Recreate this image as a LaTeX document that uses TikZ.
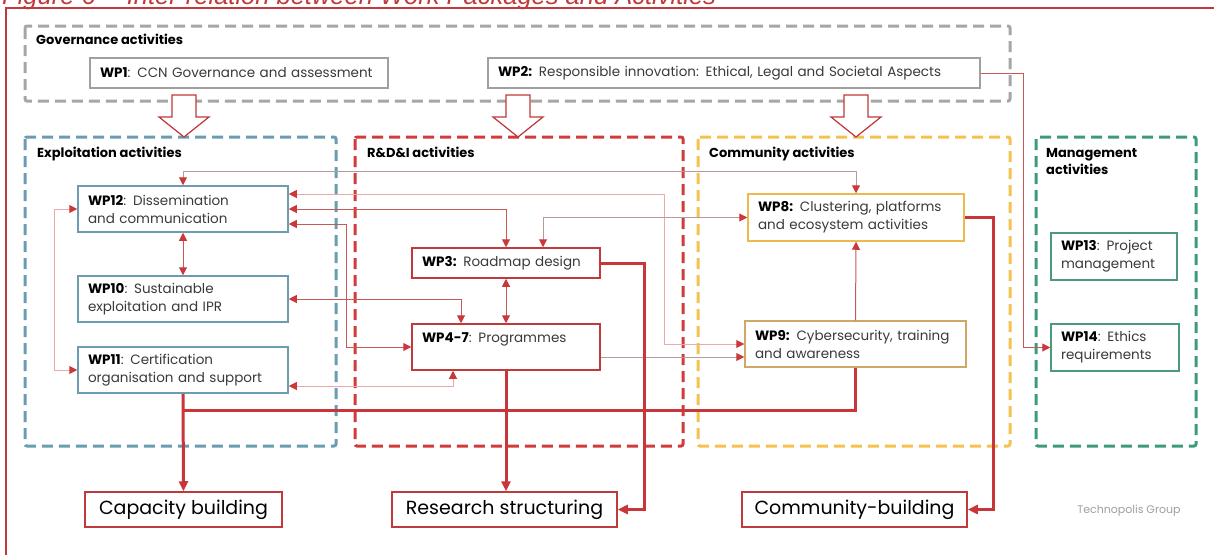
\documentclass[tikz,border=0pt]{standalone}
\usepackage{fontspec}
\setmainfont{Poppins}
\newfontfamily\titlefont{Liberation Sans}
\usetikzlibrary{arrows.meta,calc}

\definecolor{framered}{HTML}{C0393B}
\definecolor{govgray}{HTML}{A6A6A6}
\definecolor{expblue}{HTML}{6A9CB2}
\definecolor{rdired}{HTML}{D23B3B}
\definecolor{comyellow}{HTML}{F5C14F}
\definecolor{mgmtgreen}{HTML}{3E9A7A}
\definecolor{linkdark}{HTML}{C65A57}
\definecolor{linklight}{HTML}{EBA9A9}
\definecolor{linkgray}{HTML}{B89A9A}
\definecolor{busred}{HTML}{C8363A}
\definecolor{tipred}{HTML}{C9393B}
\definecolor{bodytext}{HTML}{3A3A3A}
\definecolor{wpgray}{HTML}{A0A0A0}
\definecolor{wpblue}{HTML}{6D9BB0}
\definecolor{wpred}{HTML}{C0393B}
\definecolor{wpgold}{HTML}{EDB94C}
\definecolor{wptan}{HTML}{CFA868}
\definecolor{wpgreen}{HTML}{4A9A7C}

\newcommand\wpn[1]{\textcolor{black}{\bfseries #1}}

\tikzset{
  area/.style={line width=3pt, dash pattern=on 11pt off 6pt, rounded corners=2pt},
  arealabel/.style={anchor=base west, inner sep=0pt, align=left,
    font=\fontsize{13}{17}\selectfont\bfseries, text=black},
  wpbox/.style={draw, line width=1.5pt, fill=white, inner xsep=10pt, inner ysep=0pt,
    align=left, font=\fontsize{13.5}{18}\selectfont, text=bodytext},
  wp/.style n args={2}{wpbox, text width=#1, minimum height=#2},
  outcome/.style={draw=wpred, line width=1.5pt, fill=white, inner sep=0pt,
    align=center, font=\fontsize{19}{22}\selectfont, text=black,
    minimum height=35pt},
  blockarrow/.style={draw=framered, line width=1.2pt, fill=white, line join=miter},
  link/.style={line width=1pt, >={Triangle[length=8pt,width=8pt,color=tipred]}},
  linkdark/.style={link, draw=linkdark},
  linklight/.style={link, draw=linklight},
  linkgray/.style={link, draw=linkgray},
  bus/.style={line width=3pt, draw=busred, line join=miter,
    >={Triangle[length=10pt,width=9pt,color=busred]}},
}

\begin{document}
\begin{tikzpicture}[x=1pt,y=-1pt]
\useasboundingbox (0,0) rectangle (1214,554);
\clip (0,0) rectangle (1214,554);
\fill[white] (0,0) rectangle (1214,554);

% caption, partly cut by the page edge, and the outer frame
\node[anchor=base west, inner sep=0pt, text=framered,
      font=\titlefont\itshape\fontsize{25.5}{26}\selectfont] (title) at (2,5)
  {Figure 6 -- Inter-relation between Work Packages and Activities};
\draw[framered, line width=2.5pt] (1216,8) -- (6,8) -- (6,556);

% activity areas
\draw[area, govgray]    (25,26)  rectangle (1010,101);
\draw[area, expblue]    (25,137) rectangle (336,446);
\draw[area, rdired]     (355,137) rectangle (683,446);
\draw[area, comyellow]  (698,137) rectangle (1010,446);
\draw[area, mgmtgreen]  (1036,137) rectangle (1196,446);

\node[arealabel] (lgov)  at (36,44)   {Governance activities};
\node[arealabel] (lexp)  at (37,157)  {Exploitation activities};
\node[arealabel] (lrdi)  at (367,157) {R\&D\&I activities};
\node[arealabel] (lcom)  at (709,157) {Community activities};
\node[arealabel] (lmgmt) at (1046,174) {Management\\activities};

% governance feeds the three activity areas below
\foreach \cx in {184,518,856}
  \draw[blockarrow] (\cx-12,95) -- (\cx+12,95) -- (\cx+12,117) -- (\cx+25,117)
    -- (\cx,137) -- (\cx-25,117) -- (\cx-12,117) -- cycle;

% work packages
\node[wp={278pt}{30pt}, draw=wpgray] (wp1) at (239,73)
  {\wpn{WP1}: CCN Governance and assessment};
\node[wp={472pt}{30pt}, draw=wpgray] (wp2) at (734,73)
  {\wpn{WP2:} Responsible innovation: Ethical, Legal and Societal Aspects};

\node[wp={190pt}{46pt}, draw=wpblue] (wp12) at (183,209)
  {\wpn{WP12}: Dissemination\\and communication};
\node[wp={190pt}{46pt}, draw=wpblue] (wp10) at (183,299)
  {\wpn{WP10}: Sustainable\\exploitation and IPR};
\node[wp={190pt}{46pt}, draw=wpblue] (wp11) at (183,370)
  {\wpn{WP11}: Certification\\organisation and support};

\node[wp={168pt}{30pt}, draw=wpred] (wp3) at (506,263)
  {\wpn{WP3:} Roadmap design};
\node[wp={168pt}{46pt}, draw=wpred] (wp47) at (506,347)
  {\wpn{WP4-7}: Programmes\\\mbox{}};

\node[wp={196pt}{47pt}, draw=wpgold] (wp8) at (856,217.5)
  {\wpn{WP8:} Clustering, platforms\\and ecosystem activities};
\node[wp={201pt}{46pt}, draw=wptan] (wp9) at (855.5,344)
  {\wpn{WP9:} Cybersecurity, training\\and awareness};

\node[wp={106pt}{47pt}, draw=wpgreen] (wp13) at (1114,256.5)
  {\wpn{WP13}: Project\\management};
\node[wp={108pt}{47pt}, draw=wpgreen] (wp14) at (1115,347.5)
  {\wpn{WP14}: Ethics\\requirements};

% outcomes
\node[outcome, minimum width=197pt] (cap) at (183.5,509.5) {Capacity building};
\node[outcome, minimum width=225pt] (res) at (504.5,509.5) {Research structuring};
\node[outcome, minimum width=225pt] (com) at (854.5,509.5) {Community-building};

\node[inner sep=0pt, font=\fontsize{11}{13}\selectfont, text=wpgray] (credit)
  at (1129,511) {Technopolis Group};

% routing columns and the collecting bus
\coordinate (colL)  at (54,0);
\coordinate (colA)  at (346,0);
\coordinate (colB)  at (664,0);
\coordinate (colC)  at (644,0);
\coordinate (colD)  at (993,0);
\coordinate (colE)  at (1023,0);
\coordinate (busY)  at (0,410);

% thin relations between work packages
\draw[linkgray, <->]  (wp12.north) -- ++(0,-14) -| (wp8.north);
\draw[linklight, <->] ([yshift=15pt]wp12.east) -| (colB |- wp9.west) -- (wp9.west);
\draw[linkdark, <->]  (wp12.east) -| (wp3.north);
\draw[linkdark, <->]  ([yshift=-15pt]wp12.east) -| (colA |- wp47.west) -- (wp47.west);
\draw[linkgray, <->]  (wp8.west) -| ([xshift=37pt]wp3.north);
\draw[linkdark, <->]  (wp12.south) -- (wp10.north);
\draw[linkdark, <->]  (wp10.east) -| ([xshift=-45pt]wp47.north);
\draw[linkdark, <->]  (wp3.south) -- (wp47.north);
\draw[linklight, <->] ([yshift=-16pt]wp11.east) -| ([xshift=-53pt]wp47.south);
\draw[linklight, <->] (wp12.west) -- (colL |- wp12.west) -- (colL |- wp11.west) -- (wp11.west);
\draw[linkgray, ->]   ([yshift=-10pt]wp47.east) -- ([yshift=-13pt]wp9.west);
\draw[linkdark, ->]   (wp9.north) -- (wp8.south);
\draw[linkdark, ->]   (wp2.east) -| (colE |- wp14.west) -- (wp14.west);

% thick flows into the outcomes
\draw[bus] (wp9.south) |- (wp11.south |- busY);
\draw[bus, ->] (wp11.south) -- (cap.north);
\draw[bus, ->] (wp47.south) -- (wp47.south |- res.north);
\draw[bus, ->] (wp3.east) -| (colC |- res.east) -- (res.east);
\draw[bus, ->] (wp8.east) -| (colD |- com.east) -- (com.east);
\end{tikzpicture}
\end{document}
